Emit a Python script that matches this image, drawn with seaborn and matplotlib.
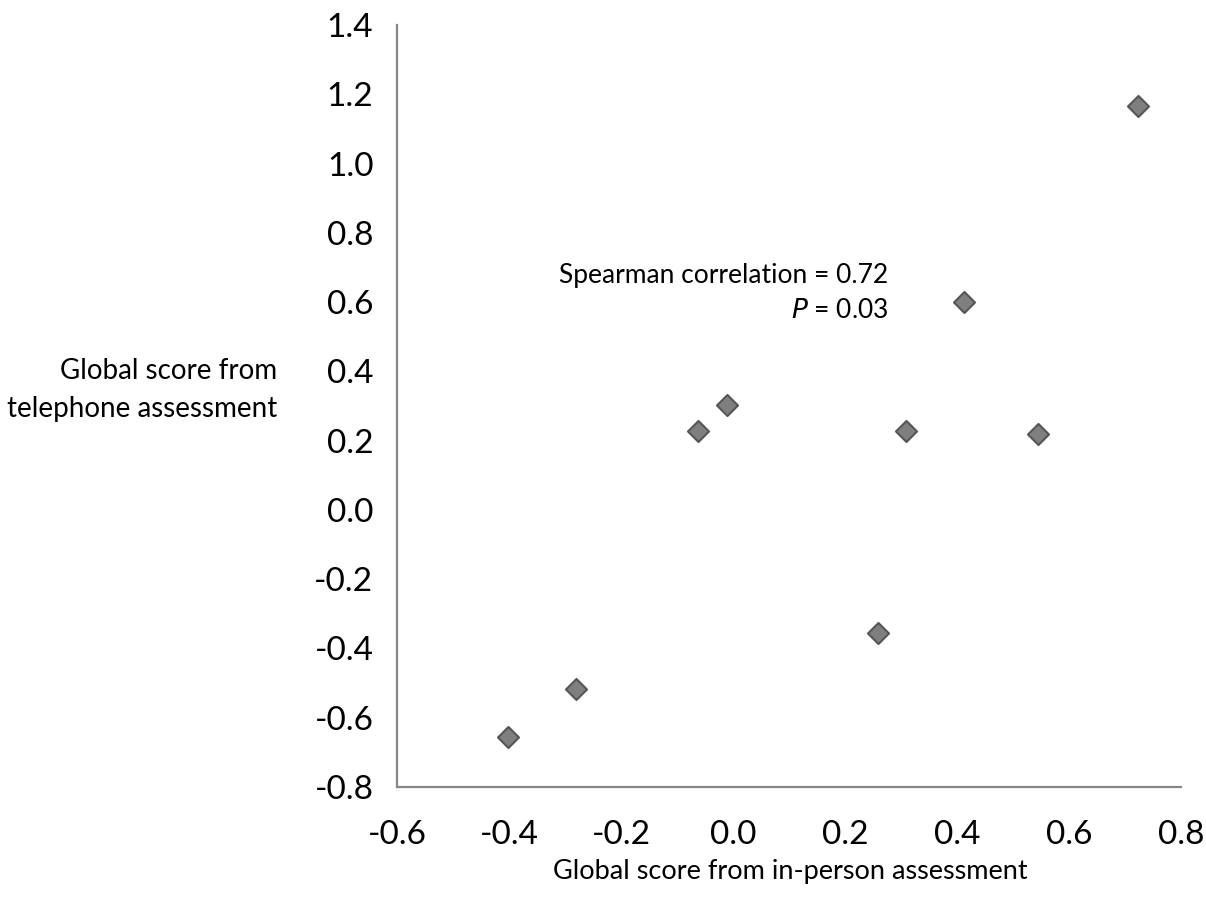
import pandas as pd
import matplotlib.pyplot as plt
import seaborn as sns

# Valores
in_person = [0.723, 0.412, -0.011, -0.063, 0.309, 0.545, 0.259, -0.280, -0.402]
telephone = [1.166, 0.600, 0.303, 0.228, 0.228, 0.219, -0.355, -0.517, -0.655]

x_ticks = [-0.6, -0.4, -0.2, 0.0, 0.2, 0.4, 0.6, 0.8]
y_ticks = [-0.8, -0.6, -0.4, -0.2, 0.0, 0.2, 0.4, 0.6, 0.8, 1.0, 1.2, 1.4]

df = pd.DataFrame({"in_person": in_person, "telephone": telephone})

sns.set_style("white")
plt.rcParams['font.family'] = ['Lato', 'DejaVu Sans']

fig = plt.figure(figsize=(12.06, 9.10), dpi=100)
ax = fig.add_axes([0.3292, 0.1352, 0.6501, 0.8373])

sns.scatterplot(data=df, x="in_person", y="telephone", ax=ax, marker="D",
                s=115, color="#7f7f7f", edgecolor="#555555", linewidth=1.5,
                zorder=3)

ax.set_xlim(-0.6, 0.8)
ax.set_ylim(-0.8, 1.4)
ax.set_xticks(x_ticks)
ax.set_yticks(y_ticks)
ax.set_xticklabels([f"{v:.1f}" for v in x_ticks])
ax.set_yticklabels([f"{v:.1f}" for v in y_ticks])

spine_color = "#868686"
for side in ["top", "right"]:
    ax.spines[side].set_visible(False)
for side in ["left", "bottom"]:
    ax.spines[side].set_color(spine_color)
    ax.spines[side].set_linewidth(1.6)
ax.tick_params(axis="both", direction="out", length=9, width=1.6,
               color=spine_color, labelsize=24, labelcolor="black")
ax.tick_params(axis="x", pad=15)
ax.tick_params(axis="y", pad=8)

ax.set_xlabel("")
ax.set_ylabel("")
fig.text(790 / 1206, 1 - 871 / 910, "Global score from in-person assessment",
         ha="center", va="center", fontsize=19.5, color="black")
fig.text(277 / 1206, 1 - 390 / 910, "Global score from\ntelephone assessment",
         ha="right", va="center", fontsize=20, linespacing=1.55, color="black")

ax.text(888 / 1206, 1 - 276 / 910, "Spearman correlation = 0.72",
        transform=fig.transFigure, ha="right", va="center", fontsize=19,
        color="black")
ax.text(888 / 1206, 1 - 310 / 910, "$\\it{P}$ = 0.03",
        transform=fig.transFigure, ha="right", va="center", fontsize=19,
        color="black")

fig.savefig("out.png", dpi=100, facecolor="white")
